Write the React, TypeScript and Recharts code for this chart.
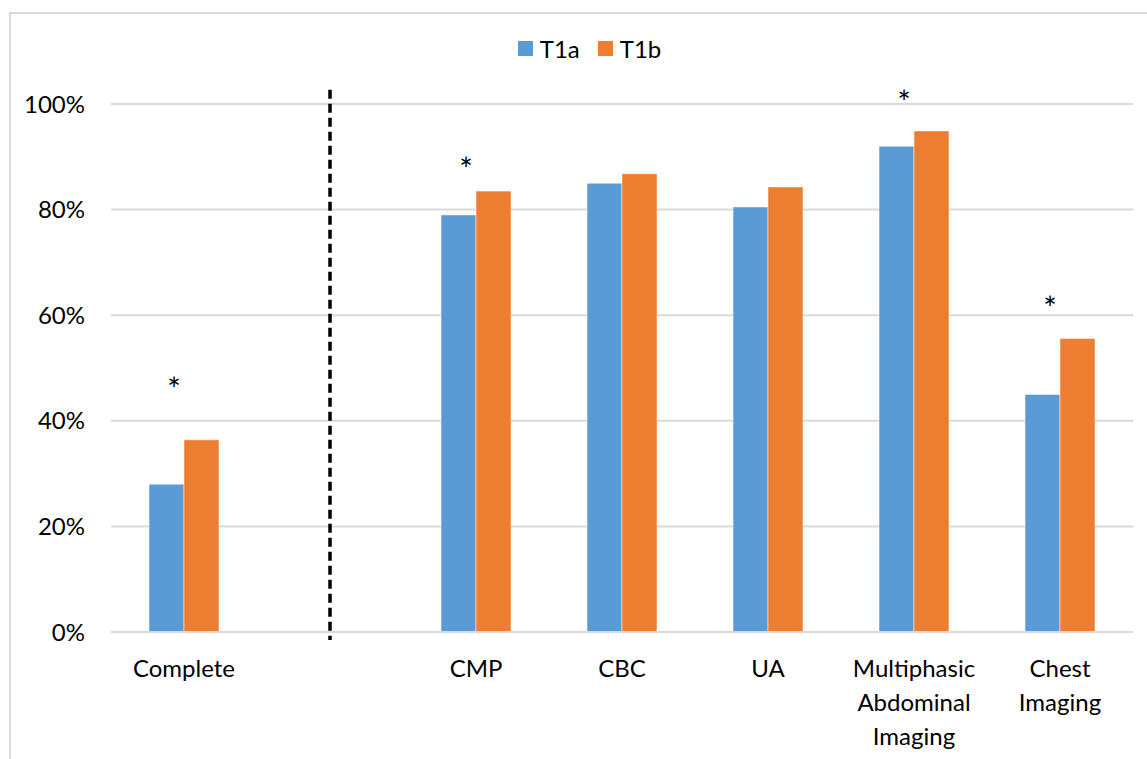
import React from 'react';
import {
  ComposedChart,
  Bar,
  XAxis,
  YAxis,
  CartesianGrid,
  Legend,
  ReferenceLine,
  ReferenceDot,
} from 'recharts';

const categories = ['Complete', 'gap', 'CMP', 'CBC', 'UA', 'Multiphasic Abdominal Imaging', 'Chest Imaging'];
const t1a = [0.28, null, 0.79, 0.85, 0.805, 0.92, 0.45];
const t1b = [0.364, null, 0.835, 0.868, 0.843, 0.949, 0.556];
// height of the significance marks, null = no mark
const stars = [0.472, null, 0.888, null, null, 1.015, 0.625];
const yTicks = [0, 0.2, 0.4, 0.6, 0.8, 1];

const data = categories.map((name, i) => ({
  name,
  T1a: t1a[i],
  T1b: t1b[i],
}));

const FONT = 'Lato, "Open Sans", sans-serif';
const BLUE = '#5B9BD5';
const ORANGE = '#ED7D31';

const CategoryTick = (props: any) => {
  const { x, y, payload } = props;
  if (payload.value === 'gap') return null;
  const lines = String(payload.value).split(' ');
  return (
    <text x={x} y={y} textAnchor="middle" fill="#000" fontSize={24} fontFamily={FONT}>
      {lines.map((l, i) => (
        <tspan key={i} x={x} dy={i === 0 ? 37 : 34}>
          {l}
        </tspan>
      ))}
    </text>
  );
};

const StarShape = (props: any) => {
  const { cx, cy } = props;
  if (cx == null || cy == null) return null;
  return (
    <text x={cx - 10} y={cy + 18} textAnchor="middle" fontSize={32} fontFamily={FONT} fill="#000">
      *
    </text>
  );
};

const LegendContent = () => (
  <div style={{ display: 'flex', justifyContent: 'center', alignItems: 'center', fontFamily: FONT, fontSize: 24 }}>
    {[
      { label: 'T1a', color: BLUE },
      { label: 'T1b', color: ORANGE },
    ].map((it) => (
      <div key={it.label} style={{ display: 'flex', alignItems: 'center', marginRight: 18 }}>
        <div style={{ width: 15, height: 15, background: it.color, marginRight: 7 }} />
        <span style={{ color: '#000' }}>{it.label}</span>
      </div>
    ))}
  </div>
);

export default function App() {
  return (
    <div style={{ position: 'absolute', left: 0, top: 0, width: 1147, height: 759, background: '#fff' }}>
      <div
        style={{
          position: 'absolute',
          left: 9,
          top: 12,
          width: 1147,
          height: 759,
          borderLeft: '2px solid #d9d9d9',
          borderTop: '2px solid #d9d9d9',
        }}
      />
      <ComposedChart
        width={1147}
        height={759}
        data={data}
        margin={{ top: 104, right: 14, bottom: 0, left: 0 }}
        barCategoryGap={38}
        barGap={0}
        style={{ position: 'absolute', left: 0, top: 0 }}
      >
        <CartesianGrid vertical={false} stroke="#d9d9d9" strokeWidth={2} />
        <XAxis
          dataKey="name"
          tick={<CategoryTick />}
          tickLine={false}
          axisLine={{ stroke: '#d9d9d9', strokeWidth: 2 }}
          interval={0}
          height={127}
        />
        <YAxis
          domain={[0, 1]}
          ticks={yTicks}
          width={111}
          tickFormatter={(v: number) => `${Math.round(v * 100)}%`}
          tick={{ fill: '#000', fontSize: 24, fontFamily: FONT }}
          tickLine={false}
          tickSize={0}
          tickMargin={26}
          axisLine={false}
        />
        <Legend
          verticalAlign="middle"
          align="center"
          content={<LegendContent />}
          wrapperStyle={{ top: 34, left: 0, width: 1197 }}
        />
        <ReferenceLine
          segment={[
            { x: 'gap', y: 1.027 },
            { x: 'gap', y: -0.015 },
          ]}
          stroke="#000"
          strokeWidth={3.5}
          strokeDasharray="9 5"
          ifOverflow="visible"
        />
        <Bar dataKey="T1a" fill={BLUE} stroke="#ffffff" strokeOpacity={0.5} isAnimationActive={false} />
        <Bar dataKey="T1b" fill={ORANGE} stroke="#ffffff" strokeOpacity={0.5} isAnimationActive={false} />
        {categories.map((c, i) =>
          stars[i] == null ? null : (
            <ReferenceDot key={c} x={c} y={stars[i] as number} ifOverflow="visible" shape={<StarShape />} />
          )
        )}
      </ComposedChart>
    </div>
  );
}
